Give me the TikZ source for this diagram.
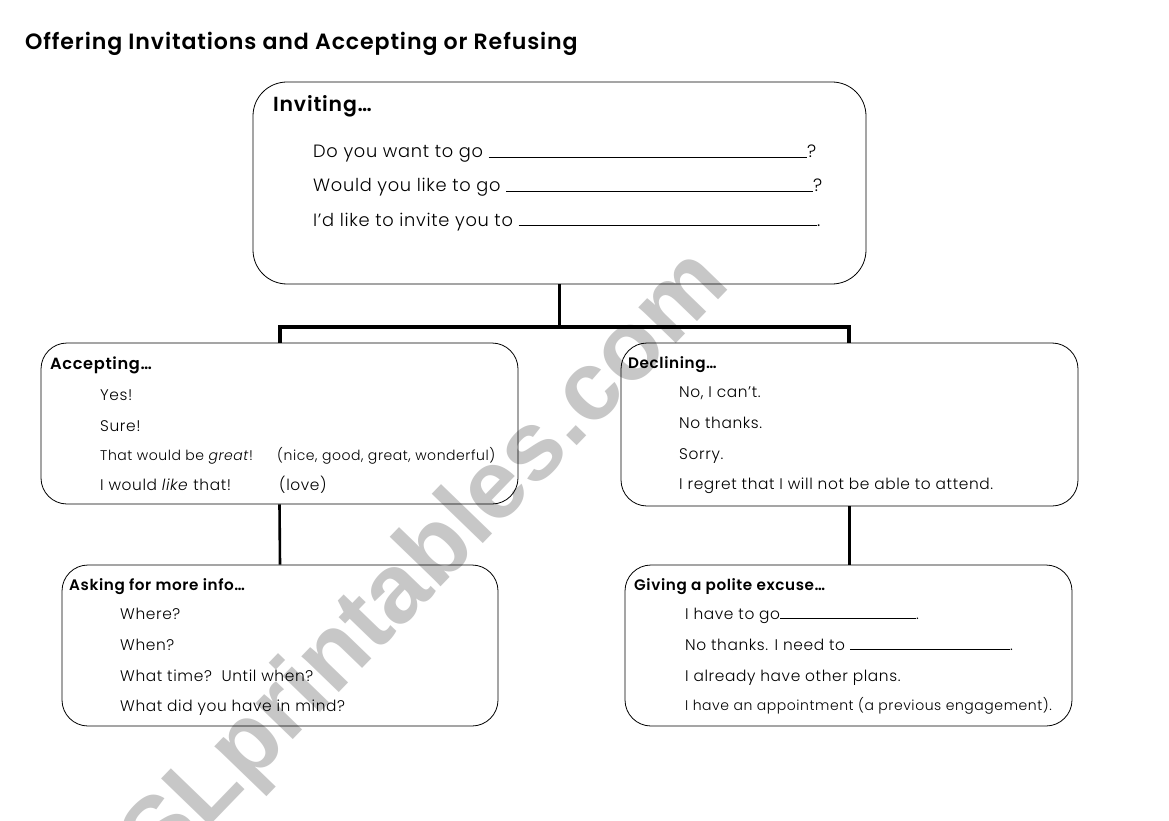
\documentclass[tikz,border=0pt]{standalone}
\usepackage{fontspec}
\setmainfont{Poppins}[LetterSpace=4, UprightFont=* Light, ItalicFont=* Light Italic, BoldFont=* SemiBold]
\newfontfamily\wmfont{Liberation Sans}
\newcommand\blankline{\leaders\hrule height 1.1pt\hfill\kern0pt}
\newcommand\fsz[1]{\fontsize{#1}{#1}\selectfont}
\begin{document}
\begin{tikzpicture}[x=1pt,y=-1pt,
  box/.style={draw, line width=0.8pt, inner sep=0, rounded corners=26pt},
  hd/.style={anchor=base west, inner sep=0, font=\bfseries\fsz{15.2}},
  ln/.style={anchor=base west, inner sep=0, font=\fsz{15.4}},
  sm/.style={anchor=base west, inner sep=0, font=\fsz{14}},
  big/.style={anchor=base west, inner sep=0, font=\fsz{17.8}},
  conn/.style={line width=2.6pt},
  bar/.style={line width=3.2pt, line join=miter}]
\useasboundingbox (0,0) rectangle (1169,821);
\fill[white] (0,0) rectangle (1169,821);
% watermark
\node[rotate=46, text=black!22, inner sep=0, font=\wmfont\bfseries\fsz{98}] (wm) at (405,588) {ESLprintables.com};
% title
\node[anchor=base west, inner sep=0, font=\bfseries\fsz{22.1}] (title) at (25,50) {Offering Invitations and Accepting or Refusing};
% boxes
\node[box, rounded corners=34pt, minimum width=613pt, minimum height=202pt] (inv) at (559.5,183) {};
\node[box, minimum width=477pt, minimum height=161pt] (acc) at (279.5,423.5) {};
\node[box, minimum width=457pt, minimum height=163pt] (dec) at (849.5,424.5) {};
\node[box, minimum width=436pt, minimum height=161pt] (ask) at (280,645.5) {};
\node[box, minimum width=447pt, minimum height=161pt] (giv) at (848.5,645.5) {};
% connectors
\coordinate (jc) at (559.5,327);
\coordinate (jl) at (280,327);
\coordinate (jr) at (849,327);
\draw[conn] (inv.south) -- (jc);
\draw[bar] (jl |- acc.north) -- (jl) -- (jr) -- (jr |- dec.north);
\draw[conn] (acc.south) -- (ask.north);
\draw[conn] (dec.south) -- (dec.south |- giv.north);
% inviting
\node[anchor=base west, inner sep=0, font=\bfseries\fsz{20.4}] (invh) at (273,112) {Inviting\dots};
\node[big] (inv1) at (313,158) {\makebox[494pt][l]{Do you want to go\ \blankline}?};
\node[big] (inv2) at (313,192) {\makebox[500pt][l]{Would you like to go\ \blankline}?};
\node[big] (inv3) at (313,226) {\makebox[504pt][l]{I’d like to invite you to\ \blankline}.};
% accepting
\node[hd, font=\bfseries\fsz{16.2}] (acch) at (50,369) {Accepting\dots};
\node[ln] (acc1) at (100,400) {Yes!};
\node[ln] (acc2) at (100,431) {Sure!};
\node[sm] (acc3) at (100,460) {That would be \textit{great}!};
\node[sm] (acc3b) at (277,460) {(nice, good, great, wonderful)};
\node[ln] (acc4) at (100,490) {I would \textit{like} that!};
\node[ln] (acc4b) at (279,490) {(love)};
% declining
\node[hd] (dech) at (628,368) {Declining\dots};
\node[ln] (dec1) at (679,397) {No, I can’t.};
\node[ln] (dec2) at (679,428) {No thanks.};
\node[ln] (dec3) at (679,459) {Sorry.};
\node[ln] (dec4) at (679,489) {I regret that I will not be able to attend.};
% asking
\node[hd] (askh) at (69,590) {Asking for more info\dots};
\node[ln] (ask1) at (120,619) {Where?};
\node[ln] (ask2) at (120,650) {When?};
\node[ln] (ask3) at (120,681) {What time?\ \ Until when?};
\node[ln] (ask4) at (120,711) {What did you have in mind?};
% giving
\node[hd] (givh) at (634,590) {Giving a polite excuse\dots};
\node[ln] (giv1) at (685,619) {\makebox[231pt][l]{I have to go\blankline}.};
\node[ln] (giv2) at (685,650) {\makebox[325pt][l]{No thanks. I need to\ \blankline}.};
\node[ln] (giv3) at (685,681) {I already have other plans.};
\node[sm] (giv4) at (685,710) {I have an appointment (a previous engagement).};
\end{tikzpicture}
\end{document}
